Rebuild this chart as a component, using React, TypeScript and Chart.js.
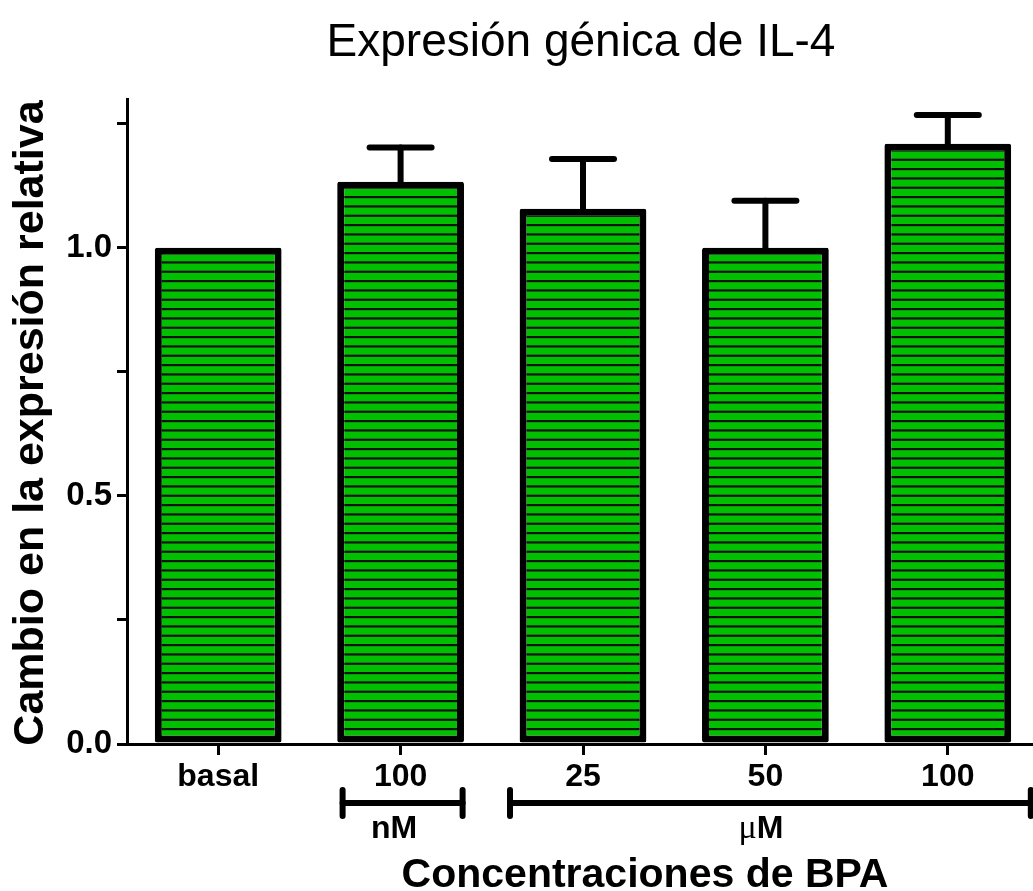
import React, { useEffect, useRef } from "react";
import { Chart, registerables } from "chart.js";

Chart.register(...registerables);

// ---- data ----
const categories = ["basal", "100", "25", "50", "100"];
const meanValues = [1.0, 1.133, 1.079, 1.0, 1.21];
const errorValues = [0, 0.069, 0.1, 0.095, 0.058];
const yTickValues = [0, 0.25, 0.5, 0.75, 1.0, 1.25];
const unitLabels = ["nM", "μM"];
const unitFromIndex = [1, 2];
const unitToIndex = [1, 4];

const chartTitle = "Expresión génica de IL-4";
const xTitle = "Concentraciones de BPA";
const yTitle = "Cambio en la expresión relativa";

const FONT = '"Liberation Sans", Arial, Helvetica, sans-serif';
const SERIF = '"Liberation Serif", "Times New Roman", serif';

function makePattern(): CanvasPattern | string {
  const c = document.createElement("canvas");
  c.width = 10;
  c.height = 28;
  const g = c.getContext("2d");
  if (!g) return "#00c000";
  g.fillStyle = "#00c000";
  g.fillRect(0, 0, 10, 28);
  g.fillStyle = "#111";
  const period = 28 / 3;
  for (let k = 0; k < 3; k++) {
    g.fillRect(0, k * period, 10, 2.2);
  }
  const p = g.createPattern(c, "repeat");
  return p || "#00c000";
}

const decorPlugin = {
  id: "decor",
  afterDatasetsDraw(chart: any) {
    const ctx = chart.ctx;
    const y = chart.scales.y;
    const meta = chart.getDatasetMeta(0);
    ctx.save();
    ctx.strokeStyle = "#000";
    ctx.lineWidth = 6;
    ctx.lineCap = "round";
    meta.data.forEach((bar: any, i: number) => {
      const e = errorValues[i];
      if (!e) return;
      const top = y.getPixelForValue(meanValues[i] + e);
      ctx.beginPath();
      ctx.moveTo(bar.x, bar.y);
      ctx.lineTo(bar.x, top);
      ctx.stroke();
      ctx.beginPath();
      ctx.moveTo(bar.x - 31, top);
      ctx.lineTo(bar.x + 31, top);
      ctx.stroke();
    });
    ctx.restore();
  },
  afterDraw(chart: any) {
    const ctx = chart.ctx;
    const x = chart.scales.x;
    ctx.save();
    ctx.fillStyle = "#000";
    ctx.strokeStyle = "#000";

    // title
    ctx.font = `46px ${FONT}`;
    ctx.textAlign = "center";
    ctx.textBaseline = "alphabetic";
    ctx.fillText(chartTitle, 581, 56);

    // x title
    ctx.font = `bold 41px ${FONT}`;
    ctx.fillText(xTitle, 645, 887);

    // y title
    ctx.save();
    ctx.translate(43, 423);
    ctx.rotate(-Math.PI / 2);
    ctx.font = `bold 43px ${FONT}`;
    ctx.textAlign = "center";
    ctx.fillText(yTitle, 0, 0);
    ctx.restore();

    // unit brackets
    const by = 803;
    for (let k = 0; k < unitLabels.length; k++) {
      const c0 = x.getPixelForValue(unitFromIndex[k]);
      const c1 = x.getPixelForValue(unitToIndex[k]);
      const left = k === 0 ? c0 - 58 : c0 - 73;
      const right = k === 0 ? c1 + 62 : c1 + 83;
      ctx.lineCap = "round";
      ctx.lineWidth = 6;
      ctx.beginPath();
      ctx.moveTo(left, by);
      ctx.lineTo(right, by);
      ctx.stroke();
      ctx.lineWidth = 6;
      ctx.beginPath();
      ctx.moveTo(left, by - 13);
      ctx.lineTo(left, by + 13);
      ctx.moveTo(right, by - 13);
      ctx.lineTo(right, by + 13);
      ctx.stroke();

      const label = unitLabels[k];
      const cx = k === 0 ? 394 : 761;
      ctx.textAlign = "left";
      if (label.startsWith("μ")) {
        ctx.font = `34px ${SERIF}`;
        const w1 = ctx.measureText("μ").width;
        ctx.font = `bold 32px ${FONT}`;
        const w2 = ctx.measureText(label.slice(1)).width;
        const sx = cx - (w1 + w2) / 2;
        ctx.font = `34px ${SERIF}`;
        ctx.fillText("μ", sx, 838);
        ctx.font = `bold 32px ${FONT}`;
        ctx.fillText(label.slice(1), sx + w1, 838);
      } else {
        ctx.font = `bold 32px ${FONT}`;
        ctx.textAlign = "center";
        ctx.fillText(label, cx, 838);
      }
    }
    ctx.restore();
  },
};

export default function App() {
  const ref = useRef<HTMLCanvasElement | null>(null);

  useEffect(() => {
    const canvas = ref.current;
    if (!canvas) return;
    const chart = new Chart(canvas, {
      type: "bar",
      data: {
        labels: categories,
        datasets: [
          {
            data: meanValues,
            backgroundColor: makePattern() as any,
            borderColor: "#000",
            borderWidth: 7,
            borderSkipped: false,
            borderRadius: 2,
            barPercentage: 0.695,
            categoryPercentage: 1,
          },
        ],
      },
      options: {
        animation: false,
        responsive: false,
        devicePixelRatio: 1,
        layout: { padding: { left: 0, right: 21, top: 99, bottom: 0 } },
        plugins: {
          legend: { display: false },
          title: { display: false },
          tooltip: { enabled: false },
        },
        scales: {
          x: {
            type: "category",
            offset: true,
            grid: {
              display: true,
              drawOnChartArea: false,
              drawTicks: true,
              offset: false,
              tickLength: 11,
              tickWidth: 3,
              tickColor: "#000",
              color: "#000",
              lineWidth: 3,
            },
            border: { display: true, color: "#000", width: 3 },
            ticks: {
              color: "#000",
              font: { family: FONT, size: 32, weight: "bold" },
              padding: 3,
              maxRotation: 0,
              autoSkip: false,
            },
            afterFit(scale: any) {
              scale.height = 147;
            },
          },
          y: {
            type: "linear",
            min: 0,
            max: 1.3,
            grid: {
              display: true,
              drawOnChartArea: false,
              drawTicks: true,
              tickLength: 10,
              tickWidth: 3,
              tickColor: "#000",
              color: "#000",
              lineWidth: 3,
            },
            border: { display: true, color: "#000", width: 3 },
            ticks: {
              color: "#000",
              font: { family: FONT, size: 33, weight: "bold" },
              padding: 5,
              stepSize: 0.25,
              callback: (v: any) => {
                const n = Number(v);
                return Math.abs(n * 2 - Math.round(n * 2)) < 1e-6 ? n.toFixed(1) : "";
              },
            },
            afterBuildTicks(scale: any) {
              scale.ticks = yTickValues.map((v) => ({ value: v }));
            },
            afterFit(scale: any) {
              scale.width = 127;
            },
          },
        },
      },
      plugins: [decorPlugin],
    });
    return () => chart.destroy();
  }, []);

  return (
    <div
      style={{
        position: "fixed",
        left: 0,
        top: 0,
        width: 1033,
        height: 891,
        overflow: "hidden",
        background: "#fff",
      }}
    >
      <canvas ref={ref} width={1060} height={891} style={{ display: "block" }} />
    </div>
  );
}
